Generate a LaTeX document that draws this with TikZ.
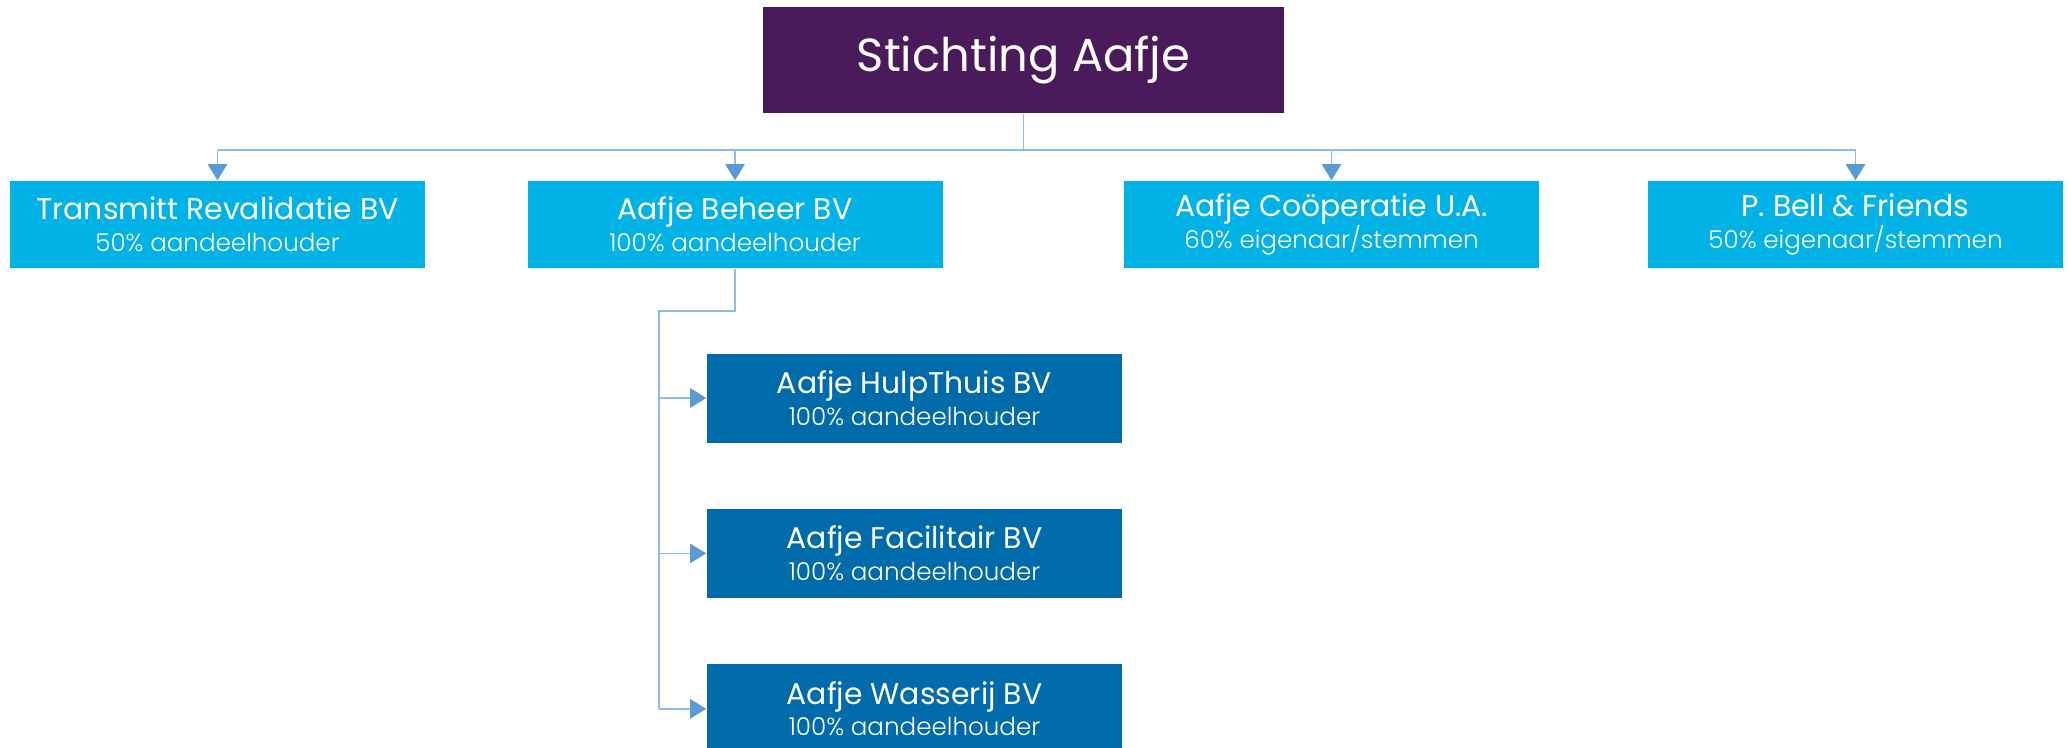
\documentclass[tikz,border=0pt]{standalone}
\usepackage{fontspec}
\setmainfont{Poppins}
\newfontfamily\thinfont{Poppins Light}
\usetikzlibrary{positioning,arrows.meta}

\definecolor{aafjepurple}{HTML}{4B1A5B}
\definecolor{aafjecyan}{HTML}{00B2E6}
\definecolor{aafjeblue}{HTML}{006BAA}
\definecolor{aafjeline}{HTML}{8CBDEB}
\definecolor{aafjetip}{HTML}{5B9BD5}

\tikzset{
  org/.style={draw=none,fill=aafjepurple,text=white,minimum width=5.21cm,minimum height=1.06cm,
    inner sep=0pt,font=\fontsize{13.2}{15}\selectfont},
  daughter/.style={fill=aafjecyan,text=white,minimum width=4.15cm,minimum height=0.87cm,
    inner sep=0pt,align=center,font=\fontsize{8.5}{10}\selectfont},
  subsidiary/.style={daughter,fill=aafjeblue,minimum height=0.89cm},
  link/.style={draw=aafjeline,line width=0.5pt},
  owns/.style={link,-{Triangle[width=5.5pt,length=4.6pt,color=aafjetip]}}
}
\newcommand{\share}[1]{\\[-1pt]{\thinfont\fontsize{7}{8}\selectfont #1}}

\begin{document}
\begin{tikzpicture}[node distance=0.65cm]
  \useasboundingbox (0,0) rectangle (20.68,-7.47);
  % The foundation on top
  \node[org] (stichting) at (10.235,-0.60) {Stichting Aafje};
  % First row: the four daughters
  \node[daughter] (transmitt) at (2.175,-2.245) {Transmitt Revalidatie BV\share{50\% aandeelhouder}};
  \node[daughter] (beheer)    at (7.35,-2.245)  {Aafje Beheer BV\share{100\% aandeelhouder}};
  \node[daughter] (coop)      at (13.315,-2.245) {Aafje Coöperatie U.A.\share{60\% eigenaar/stemmen}};
  \node[daughter] (bell)      at (18.555,-2.245) {P. Bell \& Friends\share{50\% eigenaar/stemmen}};
  % Second row: under the holding
  \node[subsidiary] (hulpthuis) at (9.145,-3.98) {Aafje HulpThuis BV\share{100\% aandeelhouder}};
  \node[subsidiary] (facilitair) [below=of hulpthuis] {Aafje Facilitair BV\share{100\% aandeelhouder}};
  \node[subsidiary] (wasserij)   [below=of facilitair] {Aafje Wasserij BV\share{100\% aandeelhouder}};

  % Bus from the foundation to the daughters
  \coordinate (bus) at (10.235,-1.50);
  \draw[link] (stichting.south) -- (bus);
  \foreach \d in {transmitt,beheer,coop,bell}
    \draw[owns] (bus -| \d.north) -- (\d.north);
  \draw[link] (bus -| transmitt.north) -- (bus -| bell.north);

  % Holding to its subsidiaries
  \coordinate (elbow) at (6.59,-3.11);
  \draw[link] (beheer.south) |- (elbow) -- (elbow |- wasserij.west);
  \foreach \s in {hulpthuis,facilitair,wasserij}
    \draw[owns] (elbow |- \s.west) -- (\s.west);
\end{tikzpicture}
\end{document}
